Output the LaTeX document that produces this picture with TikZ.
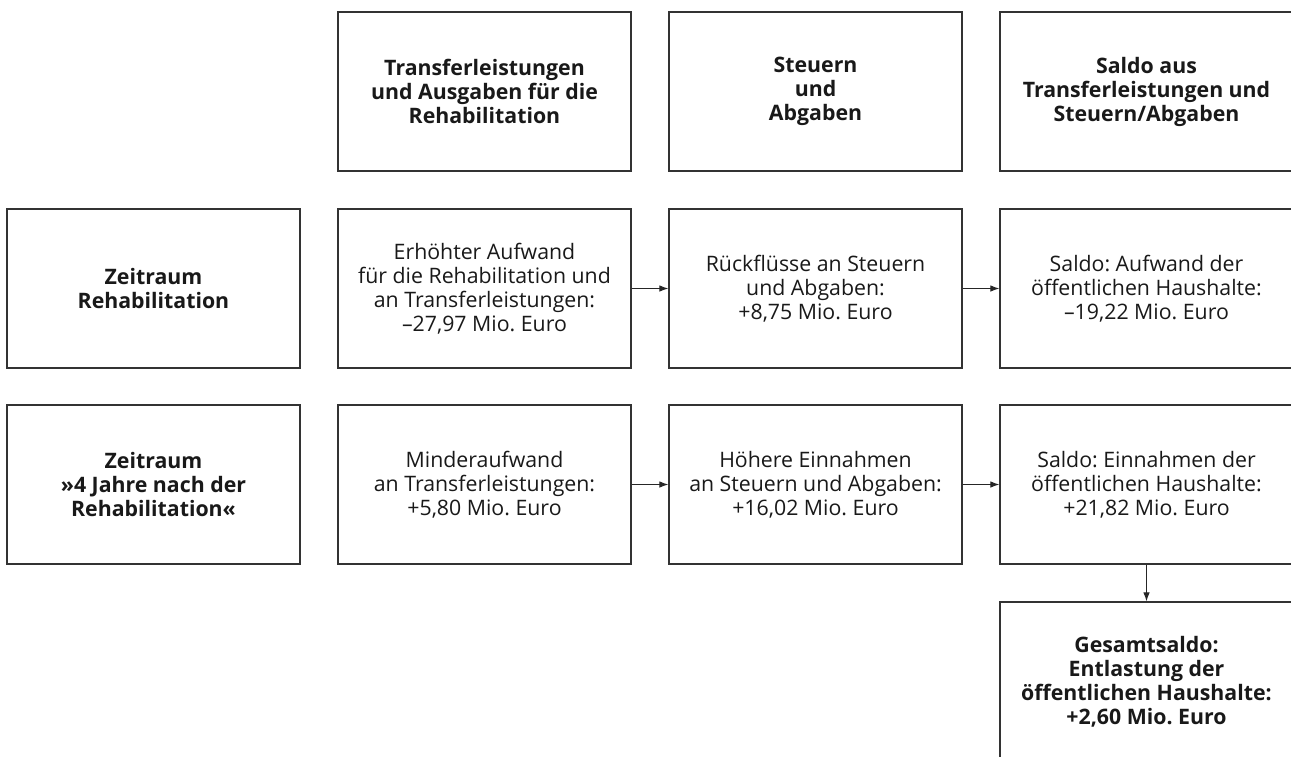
\documentclass[tikz,border=0pt]{standalone}
\usepackage{fontspec}
\setmainfont{Open Sans}
\usetikzlibrary{arrows.meta}
\tikzset{
  box/.style={draw=black!80, line width=1.2pt, minimum width=293pt, minimum height=159pt, inner sep=0pt, align=center, font=\fontsize{21.3}{24}\selectfont\frenchspacing, text=black!90},
  hbox/.style={box, font=\fontsize{21.3}{24}\selectfont\frenchspacing\bfseries},
  conn/.style={draw=black!85, line width=1pt, -{Latex[length=9pt,width=6.5pt]}}
}
\begin{document}
\begin{tikzpicture}[x=1pt,y=-1pt]
\useasboundingbox (0,0) rectangle (1291,756);
\clip (0,0) rectangle (1291,756);
\fill[white] (0,0) rectangle (1291,756);
% header row
\node[hbox] (h1) at (484.5,91.5) {Transferleistungen\\und Ausgaben für die\\Rehabilitation};
\node[hbox] (h2) at (815.5,91.5) {Steuern\\und\\Abgaben};
\node[hbox] (h3) at (1146.5,91.5) {Saldo aus\\Transferleistungen und\\Steuern/Abgaben};
% row 1
\node[hbox] (r1) at (153.5,288.5) {Zeitraum\\Rehabilitation};
\node[box] (a1) at (484.5,288.5) {Erhöhter Aufwand\\für die Rehabilitation und\\an Transferleistungen:\\–27,97 Mio. Euro};
\node[box] (b1) at (815.5,288.5) {Rückflüsse an Steuern\\und Abgaben:\\+8,75 Mio. Euro};
\node[box] (c1) at (1146.5,288.5) {Saldo: Aufwand der\\öffentlichen Haushalte:\\–19,22 Mio. Euro};
% row 2
\node[hbox] (r2) at (153.5,484.5) {Zeitraum\\»4 Jahre nach der\\Rehabilitation«};
\node[box] (a2) at (484.5,484.5) {Minderaufwand\\an Transferleistungen:\\+5,80 Mio. Euro};
\node[box] (b2) at (815.5,484.5) {Höhere Einnahmen\\an Steuern und Abgaben:\\+16,02 Mio. Euro};
\node[box] (c2) at (1146.5,484.5) {Saldo: Einnahmen der\\öffentlichen Haushalte:\\+21,82 Mio. Euro};
% total
\node[hbox] (t) at (1146.5,681.5) {Gesamtsaldo:\\Entlastung der\\öffentlichen Haushalte:\\+2,60 Mio. Euro};
% connectors
\draw[conn] (a1) -- (b1);
\draw[conn] (b1) -- (c1);
\draw[conn] (a2) -- (b2);
\draw[conn] (b2) -- (c2);
\draw[conn] (c2) -- (t);
\end{tikzpicture}
\end{document}
